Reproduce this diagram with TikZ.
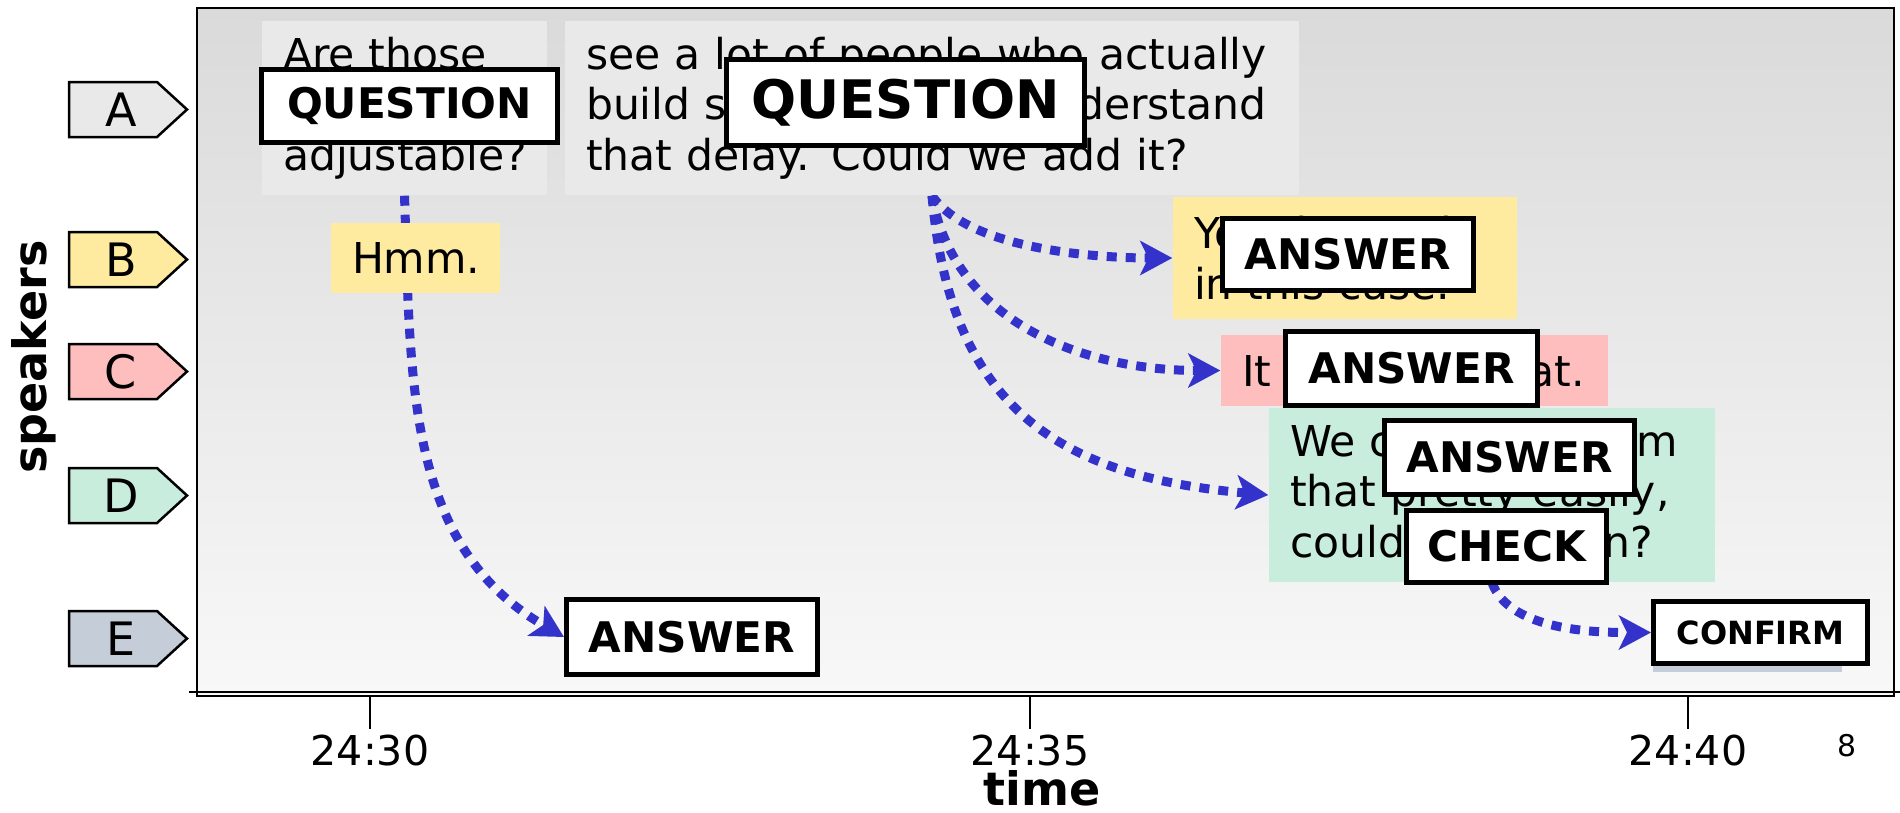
\documentclass[tikz,border=0pt]{standalone}
\usepackage{fontspec}
\setmainfont{DejaVu Sans}
\usetikzlibrary{arrows.meta,shapes.symbols}
\definecolor{SpkA}{HTML}{E9E9E9}
\definecolor{SpkB}{HTML}{FEEBA0}
\definecolor{SpkC}{HTML}{FFBEBE}
\definecolor{SpkD}{HTML}{C8EDDC}
\definecolor{SpkE}{HTML}{C5CDD8}
\definecolor{Link}{HTML}{3333CC}
\definecolor{PlotTop}{HTML}{DADADA}
\definecolor{PlotBot}{HTML}{F8F8F8}
\pgfdeclarelayer{back}
\pgfdeclarelayer{links}
\pgfsetlayers{back,links,main}

\begin{document}
\begin{tikzpicture}[x=0.1mm,y=0.1mm,
    tag/.style={shape=signal,signal to=east,signal pointer angle=85,draw=black,
      line width=0.25mm,minimum width=11.8mm,minimum height=5.5mm,inner sep=0pt,
      font=\fontsize{13.1pt}{15pt}\selectfont},
    utt/.style={rectangle,inner xsep=2.1mm,inner ysep=0pt,align=left,
      font=\fontsize{12.1pt}{14.4pt}\selectfont},
    lab/.style={rectangle,draw=black,fill=white,line width=0.5mm,inner sep=0pt,
      font=\fontsize{12pt}{14pt}\selectfont\bfseries},
    link/.style={Link,line width=0.9mm,dash pattern=on 1mm off 0.9mm,
      -{Stealth[length=3.2mm,width=3.4mm,inset=0.8mm]}},
    ticklab/.style={font=\fontsize{11.7pt}{14pt}\selectfont},
    axtitle/.style={inner sep=0pt,font=\fontsize{13.1pt}{15pt}\selectfont\bfseries}
  ]
  \useasboundingbox (0,0) rectangle (1900,812);
  % plot area
  \begin{pgfonlayer}{back}
    \fill[top color=PlotTop,bottom color=PlotBot] (197,116) rectangle (1894,804);
    \draw[line width=0.2mm] (197,116) rectangle (1894,804);
  \end{pgfonlayer}
  \draw[line width=0.2mm] (189,120) -- (1900,120);
  \foreach \x/\t in {370/24:30,1030/24:35,1688/24:40}{
    \draw[line width=0.2mm] (\x,116) -- (\x,83);
    \node[ticklab] (tick\x) at (\x,61) {\t};
  }
  \node[axtitle] (timelabel) at (1042,24) {time};
  \node[axtitle,rotate=90] (spklabel) at (34,455) {speakers};
  \node[font=\fontsize{8.5pt}{10pt}\selectfont] (pagenum) at (1847,66) {8};

  % speakers
  \foreach \s/\y in {A/702.5,B/552.5,C/440.5,D/316.5,E/173.5}
    \node[tag,fill=Spk\s] (tag\s) at (113,\y) {\hspace*{1.6mm}\s};

  % utterances
  \node[utt,fill=SpkA,minimum width=28.5mm,minimum height=17.4mm,text width=24.3mm]
    (a1) at (404.5,704) {Are those\\\strut\\adjustable?};
  \node[utt,fill=SpkA,minimum width=73.4mm,minimum height=17.4mm,text width=69.2mm]
    (a2) at (932,704) {see~a~lot~of~people~who~actually\\build~stuff~but~don't~understand\\that delay. Could we add it?};
  \node[utt,fill=SpkB,minimum width=16.9mm,minimum height=7mm,text width=12.7mm]
    (b1) at (415.5,554) {Hmm.};
  \node[utt,fill=SpkB,minimum width=34.4mm,minimum height=12.2mm,text width=30.2mm]
    (b2) at (1345,554) {You'd~want~it\\in this case.};
  \node[utt,fill=SpkC,minimum width=38.7mm,minimum height=7.1mm,text width=34.5mm]
    (c1) at (1414.5,441.5) {It~won't~do~that.};
  \node[utt,fill=SpkD,minimum width=44.6mm,minimum height=17.4mm,text width=40.4mm]
    (d1) at (1492,317) {We~could~do~them\\that~pretty~easily,\\could~you~begin?};
  \node[utt,fill=SpkE,minimum width=18.9mm,minimum height=6.8mm,text width=14.7mm]
    (e1) at (1747.5,174) {};

  % dialogue acts
  \node[lab,minimum width=29.6mm,minimum height=7.3mm] (q1) at (409.5,706) {QUESTION};
  \node[lab,minimum width=35.8mm,minimum height=8.6mm,font=\fontsize{15.1pt}{17pt}\selectfont\bfseries]
    (q2) at (905.5,709.5) {QUESTION};
  \node[lab,minimum width=25.1mm,minimum height=7.2mm] (ansB) at (1348,557.5) {ANSWER};
  \node[lab,minimum width=25.2mm,minimum height=7.4mm] (ansC) at (1411.5,443.5) {ANSWER};
  \node[lab,minimum width=25mm,minimum height=7.4mm] (ansD) at (1509.5,354.5) {ANSWER};
  \node[lab,minimum width=20mm,minimum height=7.2mm] (check) at (1506.5,265.5) {CHECK};
  \node[lab,minimum width=25.1mm,minimum height=7.5mm] (ansE) at (692,175) {ANSWER};
  \node[lab,minimum width=21.4mm,minimum height=6.2mm,font=\fontsize{9.1pt}{11pt}\selectfont\bfseries]
    (confirm) at (1760.5,179.5) {CONFIRM};

  % links
  \begin{pgfonlayer}{links}
    \draw[link] (a1.south) to[out=-88,in=150] (ansE.west);
    \draw[link] (a2.south) to[out=-55,in=180,looseness=0.7] (b2.west);
    \draw[link] (a2.south) to[out=-80,in=180] (c1.west);
    \draw[link] (a2.south) to[out=-85,in=175,looseness=1.2] (d1.west);
    \draw[link] (d1.south) to[out=-70,in=180,looseness=0.8] (confirm.west);
  \end{pgfonlayer}
\end{tikzpicture}
\end{document}
